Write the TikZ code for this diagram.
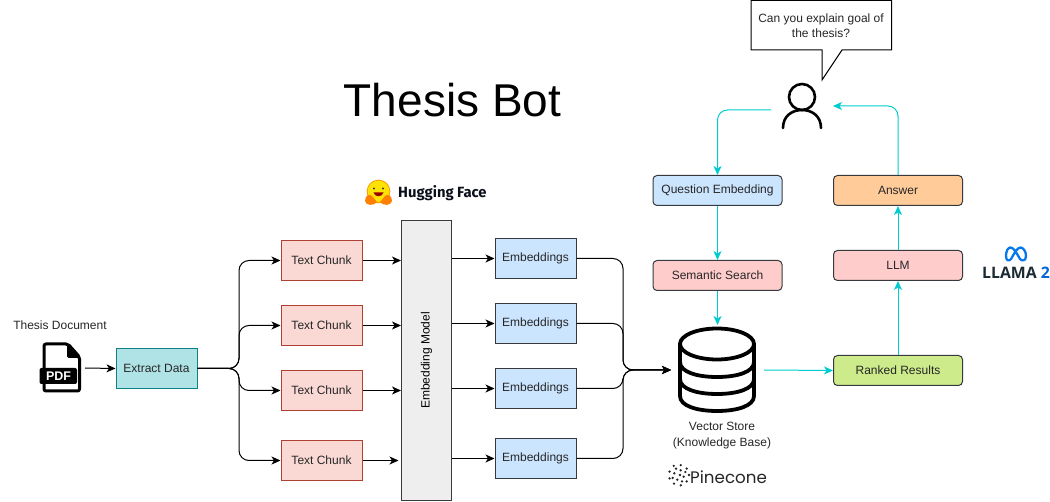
\documentclass[tikz,border=0pt]{standalone}
\usepackage{fontspec}
\setmainfont{Liberation Sans}
\newfontfamily\hffont{Fira Sans}
\newfontfamily\pinefont{Poppins}
\newfontfamily\llamafont{Open Sans}
\usetikzlibrary{arrows.meta,calc,positioning}
\definecolor{txt}{HTML}{262626}
\definecolor{cy}{HTML}{00CCD0}
\definecolor{edge}{HTML}{36393D}
\tikzset{
  lbl/.style={font=\fontsize{12}{15.5}\selectfont,text=txt,align=center,inner sep=0pt},
  boxbase/.style={draw,lbl,line width=1pt,minimum width=81pt,minimum height=40pt},
  extractbox/.style={boxbase,fill={rgb,255:red,176;green,227;blue,230},draw={rgb,255:red,14;green,128;blue,136}},
  chunkbox/.style={boxbase,fill={rgb,255:red,250;green,217;blue,213},draw={rgb,255:red,174;green,65;blue,50}},
  embbox/.style={boxbase,fill={rgb,255:red,204;green,229;blue,255},draw=edge},
  flowbox/.style={boxbase,rounded corners=4pt,minimum width=129pt,minimum height=30pt,draw=edge},
  blk/.style={line width=1pt,-{Stealth[length=9pt,width=8pt,inset=2.5pt]},rounded corners=10pt},
  cyn/.style={line width=1pt,cy,-{Stealth[length=9pt,width=8pt,inset=2.5pt]},rounded corners=10pt},
  iconbox/.style={inner sep=0pt,outer sep=0pt},
}
\begin{document}
\begin{tikzpicture}[x=1pt,y=-1pt]
\useasboundingbox (0,0) rectangle (1050,502);

% title
\node[font=\fontsize{46}{50}\selectfont,inner sep=0pt,text=black] (title) at (452.5,100) {Thesis Bot};

% invisible anchors for drawn icons
\node[iconbox,minimum width=46pt,minimum height=50pt] (pdf) at (62,368) {};
\node[iconbox,minimum width=93pt,minimum height=90pt] (db) at (717.5,370) {};
\coordinate (personL) at (771,110);
\coordinate (personR) at (833,106);

% boxes
\node[extractbox] (extract) at (156.5,368.5) {Extract Data};
\node[chunkbox] (c1) at (321.5,260.5) {Text Chunk};
\node[chunkbox] (c2) at (321.5,325.5) {Text Chunk};
\node[chunkbox] (c3) at (321.5,390.5) {Text Chunk};
\node[chunkbox] (c4) at (321.5,460.5) {Text Chunk};
\node[draw=edge,line width=1pt,fill={rgb,255:red,238;green,238;blue,238},minimum width=50pt,minimum height=280pt,inner sep=0pt] (model) at (426.5,360.5) {};
\node[lbl,rotate=90,text=black] (modeltxt) at (426.5,360.5) {Embedding Model};
\node[embbox] (e1) at (535.5,258.5) {Embeddings};
\node[embbox] (e2) at (535.5,323.5) {Embeddings};
\node[embbox] (e3) at (535.5,388.5) {Embeddings};
\node[embbox] (e4) at (535.5,458.5) {Embeddings};
\node[flowbox,fill={rgb,255:red,204;green,229;blue,255}] (qe) at (717.5,190.5) {Question Embedding};
\node[flowbox,fill={rgb,255:red,255;green,204;blue,204}] (ss) at (717.5,275.5) {Semantic Search};
\node[flowbox,fill={rgb,255:red,255;green,204;blue,153}] (ans) at (898,190.5) {Answer};
\node[flowbox,fill={rgb,255:red,255;green,204;blue,204}] (llm) at (898,265.5) {LLM};
\node[flowbox,fill={rgb,255:red,205;green,235;blue,139}] (rank) at (898,370.5) {Ranked Results};

% labels
\node[lbl] (doc) at (60,325) {Thesis Document};
\node[lbl] (vs) at (722,435.5) {Vector Store\\(Knowledge Base)};

% black connectors
\draw[blk] (pdf.east) -- (extract.west);
\coordinate (sp) at (239,368.5);
\foreach \c in {c1,c2,c3,c4}{
  \draw[blk] (extract.east) -- (sp) |- (\c.west);
}
\foreach \c in {c1,c2,c3}{
  \draw[blk] (\c.east) -- (model.west |- \c.east);
}
\draw[blk,shorten >=2.5pt] (c4.east) -- (model.west |- c4.east);
\foreach \e in {e1,e2,e3,e4}{
  \draw[blk] (model.east |- \e.west) -- (\e.west);
}
\coordinate (mg) at (623,370);
\foreach \e in {e1,e2,e3,e4}{
  \draw[blk] (\e.east) -| (mg) -- (db.west);
}

% cyan connectors
\draw[cyn] (personL) -| (qe.north);
\draw[cyn] (qe.south) -- (ss.north);
\draw[cyn] (ss.south) -- (db.north -| ss.south);
\draw[cyn] (db.east) -- (rank.west);
\draw[cyn] (rank.north) -- (llm.south);
\draw[cyn] (llm.north) -- (ans.south);
\draw[cyn] (ans.north) |- (personR);

% speech bubble
\draw[line width=1pt,fill=white] (751,0.5) -- (891.5,0.5) -- (891.5,50) -- (842,50) -- (822,80) -- (822,50) -- (751,50) -- cycle;
\node[lbl] (ask) at (821,25.5) {Can you explain goal of\\the thesis?};

% person
\draw[line width=2.6pt,line cap=round] (802,97) circle (13);
\draw[line width=2.6pt,line cap=round] (783,128) .. controls (783,116) and (792,110) .. (802,110) .. controls (812,110) and (821,116) .. (821,128);

% PDF icon
\draw[line width=3pt,line join=round,rounded corners=2pt,fill=white] (44,344) -- (68,344) -- (79.5,357) -- (79.5,391) -- (44,391) -- cycle;
\fill[rounded corners=1.5pt] (67,344) -- (69,344) -- (80,357) -- (80,358) -- (67,358) -- cycle;
\fill[rounded corners=2pt] (39.5,368) rectangle (77,384);
\node[font=\bfseries\fontsize{12.5}{13}\selectfont,text=white,inner sep=0pt] (pdftxt) at (58.5,376.5) {PDF};

% database icon
\begin{scope}[line width=3.8pt]
\draw (717,344) ellipse (37 and 15.5);
\draw (680,344) -- (680,396) .. controls (680,406) and (697,411) .. (717,411) .. controls (737,411) and (754,406) .. (754,396) -- (754,344);
\draw (680,362) .. controls (680,372) and (697,377) .. (717,377) .. controls (737,377) and (754,372) .. (754,362);
\draw (680,379) .. controls (680,389) and (697,394) .. (717,394) .. controls (737,394) and (754,389) .. (754,379);
\end{scope}

% Hugging Face logo
\fill[orange!90!yellow] (378.5,191.5) circle (11.8);
\fill[yellow!85!orange] (378.5,191.5) circle (11);
\fill[black!75] (374,188.5) circle (1.2) (383,188.5) circle (1.2);
\fill[red!60!black] (373.5,192.5) .. controls (375,197.5) and (382,197.5) .. (383.5,192.5) -- cycle;
\fill[orange] (365,201) .. controls (365,196) and (369,193) .. (372,196) -- (377,202) .. controls (374,206) and (366,206) .. (365,201) -- cycle;
\fill[orange] (392,201) .. controls (392,196) and (388,193) .. (385,196) -- (380,202) .. controls (383,206) and (391,206) .. (392,201) -- cycle;
\node[font=\hffont\bfseries\fontsize{14.8}{16}\selectfont,text={rgb,255:red,11;green,15;blue,25},inner sep=0pt,anchor=west] (hf) at (398,193) {Hugging Face};

% Pinecone logo
\foreach \a/\r in {0/10,40/10,80/10.5,120/10,160/10,200/10,240/10.5,280/10,320/10,20/5,110/5,200/5,290/5,65/7,155/7,245/7,335/7,0/1}{
  \fill[black!85] (679,475) ++(\a:\r) circle (1.3);
}
\node[font=\pinefont\fontsize{16.7}{20}\selectfont,text=black!85,inner sep=0pt,anchor=west] (pine) at (690,477) {Pinecone};

% Llama logo
\draw[line width=2.3pt,color={rgb,255:red,6;green,120;blue,235},line join=round] (1006,256) .. controls (1006,251) and (1008,247.5) .. (1010.5,247.5) .. controls (1014,247.5) and (1017,254) .. (1020,259) .. controls (1022,261.5) and (1026,261) .. (1026,256) .. controls (1026,251) and (1023,247.5) .. (1020.5,247.5) .. controls (1017,247.5) and (1014,254) .. (1011,259) .. controls (1009,261.5) and (1006,261) .. (1006,256) -- cycle;
\node[font=\llamafont\bfseries\fontsize{15.8}{17}\selectfont,text={rgb,255:red,28;green,43;blue,51},inner sep=0pt,anchor=west] (llama) at (982,273) {LLAMA \textcolor[rgb]{0.02,0.4,0.85}{2}};
\end{tikzpicture}
\end{document}
